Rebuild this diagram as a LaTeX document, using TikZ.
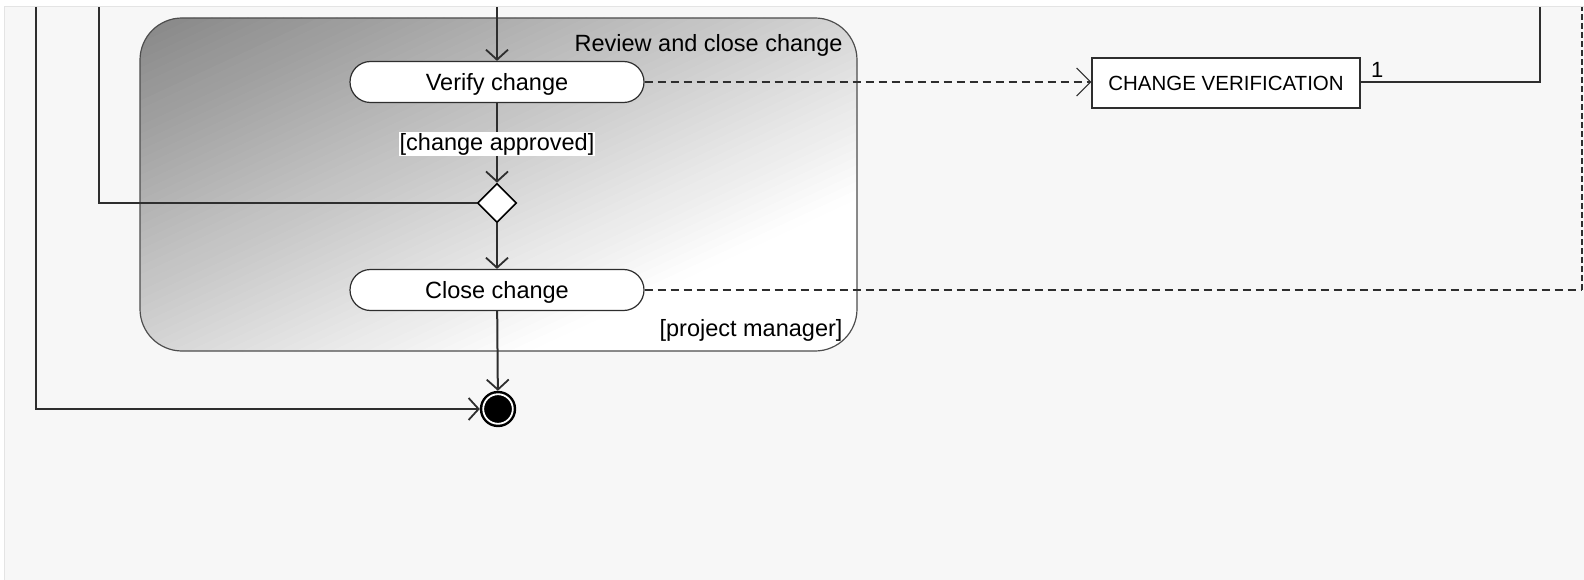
\documentclass[tikz,border=0pt]{standalone}
\usepackage{fontspec}
\setmainfont{Liberation Sans}
\usetikzlibrary{arrows.meta,shapes.geometric}
\definecolor{bgc}{HTML}{F7F7F7}
\definecolor{edgec}{HTML}{E4E4E4}
\definecolor{linec}{HTML}{2E2E2E}
\definecolor{gdark}{HTML}{868686}
\tikzset{
  x=1pt,y=1pt,
  txt/.style={font=\fontsize{23.5}{27}\selectfont, text=black},
  act/.style={draw=linec, line width=1.2pt, fill=white, rounded corners=20.5pt,
     minimum width=294pt, minimum height=41pt, inner sep=0pt, txt, text depth=1pt},
  dia/.style={diamond, draw=black, line width=1.6pt, fill=white, minimum width=39pt,
     minimum height=39pt, inner sep=0pt, aspect=1},
  obj/.style={draw=linec, line width=1.2pt, fill=white, minimum width=268pt,
     minimum height=50pt, inner sep=0pt, font=\fontsize{20.5}{24}\selectfont, text depth=0pt},
  endo/.style={circle, draw=black, line width=1.4pt, fill=black, minimum size=35pt,
     inner sep=0pt, path picture={\draw[white, line width=1.8pt]
       (path picture bounding box.center) circle (14.8pt);}},
  line/.style={draw=linec, line width=2pt},
  flow/.style={line, -{Straight Barb[length=10pt,width=22pt,line width=1.8pt]}},
  dflow/.style={draw=linec, line width=1.2pt, dash pattern=on 8pt off 5pt,
     -{Straight Barb[length=14pt,width=28pt,line width=1.1pt]}},
  dline/.style={draw=linec, line width=1.2pt, dash pattern=on 8pt off 5pt},
  vdline/.style={draw=linec, line width=1.2pt, dash pattern=on 6pt off 3pt},
  lab/.style={fill=white, inner sep=1pt, txt},
}
\begin{document}
\begin{tikzpicture}
\useasboundingbox (0,0) rectangle (1584,-580);
% background
\fill[white] (0,0) rectangle (1584,-580);
\fill[bgc] (4,-6) rectangle (1584,-580);
\draw[edgec, line width=1pt] (4.5,-580) -- (4.5,-6.5) -- (1584,-6.5);
% swimlane container with gradient
\begin{scope}
  \clip[rounded corners=42pt] (140,-18) rectangle (857,-351);
  \fill[white] (140,-18) rectangle (857,-351);
  \begin{scope}[shift={(140,-18)}, rotate=-65.1]
    \fill[gdark] (-300,-1000) rectangle (0.5,1000);
    \foreach \i in {0,...,61}{
      \pgfmathsetmacro\p{100*(1-(\i+0.5)/62)}
      \fill[gdark!\p!white] (\i*7.5,-1000) rectangle (\i*7.5+8.1,1000);
    }
  \end{scope}
\end{scope}
\draw[linec!85, line width=1.2pt, rounded corners=42pt] (140,-18) rectangle (857,-351);
\node[txt, anchor=east] (title) at (846,-45) {Review and close change};
\node[txt, anchor=east] (role) at (846,-330) {[project manager]};
% nodes
\node[act] (verify) at (497,-82) {Verify change};
\node[act] (close) at (497,-290) {Close change};
\node[dia] (dec) at (497,-203) {};
\node[endo] (end) at (498,-409) {};
\node[obj] (cv) at (1226,-83) {CHANGE VERIFICATION};
% free ends at top
\coordinate (t1) at (36,-7);
\coordinate (t2) at (99,-7);
\coordinate (t3) at (497,-7);
\coordinate (t4) at (1540,-7);
\coordinate (t5) at (1582,-7);
% connectors
\draw[flow] (t3) -- (verify);
\draw[flow] (verify) -- node[lab, yshift=-1.5pt] (cond) {[change approved]} (dec);
\draw[flow] (dec) -- (close);
\draw[flow] (close) -- (end);
\draw[flow] (t1) |- (end);
\draw[line] (dec.west) -| (t2);
\draw[dflow] (verify.east) -- (cv.west |- verify.east);
\draw[line] (cv.east |- 0,-82) -| (t4);
\node[font=\fontsize{22}{24}\selectfont, inner sep=0pt, anchor=base west] (one) at (1371,-78) {1};
\draw[dline] (close.east) -- (1582,-290) coordinate (corner);
\draw[vdline] (corner) -- (t5);
\end{tikzpicture}
\end{document}
